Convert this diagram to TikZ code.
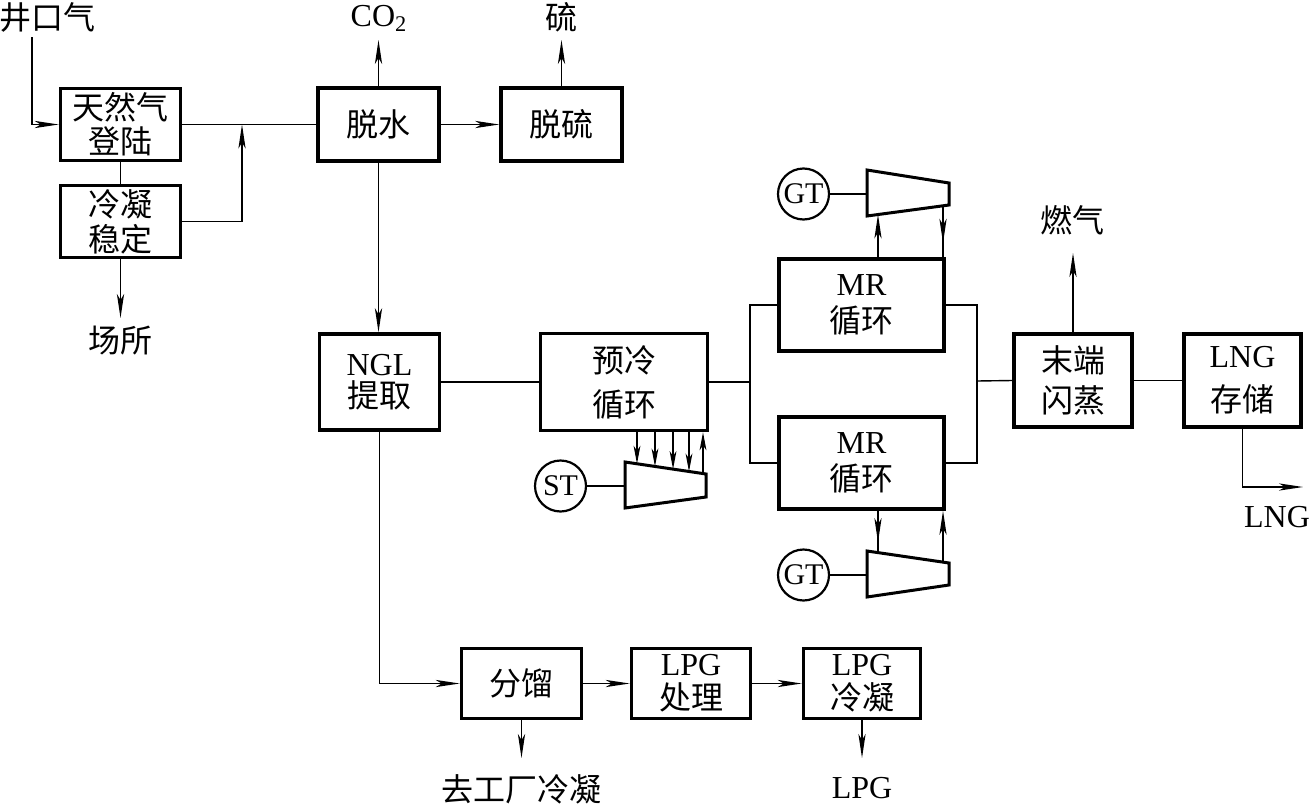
\documentclass[tikz,border=0pt]{standalone}
\usepackage{fontspec}
\setmainfont{Liberation Serif}
\newfontfamily\cjk{Noto Sans CJK SC}
\newfontfamily\lat{Liberation Serif}
\usetikzlibrary{arrows.meta,calc,decorations.markings}
\begin{document}
\begin{tikzpicture}[x=0.5pt,y=-0.5pt, line width=0.7pt,
  box/.style={draw, line width=1.8pt, inner sep=0pt, align=center, font=\cjk\fontsize{16}{17}\selectfont},
  ls/.style={font=\cjk\fontsize{16}{#1}\selectfont},
  lab/.style={inner sep=0pt, font=\cjk\fontsize{16}{17}\selectfont},
  arr/.style={-{Stealth[length=12pt,width=3.6pt,inset=3pt]}},
  sarr/.style={-{Stealth[length=9pt,width=3.4pt,inset=2.5pt]}},
  marr/.style={postaction={decorate}, decoration={markings, mark=at position #1 with {\arrow{Stealth[length=12pt,width=3.6pt,inset=3pt]}}}},
  comp/.style={draw, line width=1.5pt, line join=miter},
  turb/.style={draw, circle, line width=1.1pt, inner sep=0pt, minimum size=25.5pt, font=\lat\fontsize{15}{16}\selectfont}]
\useasboundingbox (0,0) rectangle (1311,803);

% boxes
\node[box, minimum width=60pt, minimum height=36pt] (land) at (120.5,124.5) {天然气\\登陆};
\node[box, ls=17.5, minimum width=60pt, minimum height=36pt] (cond) at (120.5,221.5) {冷凝\\稳定};
\node[box, minimum width=60.5pt, minimum height=36.5pt] (dehy) at (378.5,124.5) {脱水};
\node[box, minimum width=60.5pt, minimum height=36.5pt] (desulf) at (561.5,124.5) {脱硫};
\node[box, ls=16, minimum width=60pt, minimum height=48pt] (ngl) at (379.5,382) {{\lat NGL}\\提取};
\node[box, ls=22, minimum width=83.5pt, minimum height=48.5pt] (pre) at (624,382) {预冷\\循环};
\node[box, ls=18.5, minimum width=82.5pt, minimum height=46pt] (mr1) at (861.5,305) {{\lat MR}\\循环};
\node[box, ls=18.5, minimum width=82.5pt, minimum height=46pt] (mr2) at (861.5,463) {{\lat MR}\\循环};
\node[box, ls=20, minimum width=59pt, minimum height=46.5pt] (flash) at (1073,380.5) {末端\\闪蒸};
\node[box, ls=22, minimum width=58.7pt, minimum height=46.5pt] (lngs) at (1242.5,380.5) {{\lat LNG}\\存储};
\node[box, minimum width=60pt, minimum height=35pt] (frac) at (521.5,683.5) {分馏};
\node[box, minimum width=59.5pt, minimum height=35pt] (lpgt) at (691,683.5) {{\lat LPG}\\处理};
\node[box, minimum width=58.5pt, minimum height=35pt] (lpgc) at (862,683.5) {{\lat LPG}\\冷凝};

% labels
\node[lab, anchor=west] (well) at (-1,17) {井口气};
\node[lab, anchor=south, inner ysep=4pt] (co2) at (379,40) {\lat CO\textsubscript{2}};
\node[lab, anchor=south, inner ysep=3.5pt] (sulf) at (561.5,40) {硫};
\node[lab, anchor=north, inner ysep=3.5pt] (place) at (120.5,318) {场所};
\node[lab, anchor=south, inner ysep=8.5pt] (fuel) at (1072,253) {燃气};
\node[lab] (lngout) at (1277,517) {\lat LNG};
\node[lab, anchor=north, inner ysep=8pt] (togo) at (521.5,758) {去工厂冷凝};
\node[lab, anchor=north, inner ysep=9.5pt] (lpg) at (862,758) {\lat LPG};

% left part
\coordinate (in0) at (32,37);
\draw[arr] (in0) |- (land.west);
\draw (land.south) -- (cond.north);
\draw (land.east) -- (dehy.west);
\coordinate (j1) at (242,124.5);
\draw[arr] (cond.east) -| (j1);
\draw[arr] (cond.south) -- (place.north);
\draw[arr] (dehy.north) -- (dehy.north |- co2.south);
\draw[arr] (dehy.east) -- (desulf.west);
\draw[arr] (desulf.north) -- (sulf.south);
\draw[arr] (dehy.south) -- (dehy.south |- ngl.north);
\draw (ngl.east) -- (pre.west);
\draw[arr] (ngl.south) |- (frac.west);
\draw[arr] (frac.east) -- (lpgt.west);
\draw[arr] (lpgt.east) -- (lpgc.west);
\draw[arr] (frac.south) -- (togo.north);
\draw[arr] (lpgc.south) -- (lpg.north);

% MR branches
\coordinate (b1) at (750,382);
\draw (pre.east) -- (b1);
\draw (mr1.west) -| (b1) |- (mr2.west);
\coordinate (b2) at (977,381);
\draw (mr1.east) -| (b2) |- (mr2.east);
\draw (b2) -- (flash.west);
\draw (flash.east) -- (lngs.west);
\draw[arr] (flash.north) -- (flash.north |- fuel.south);
\coordinate (lngtip) at (1303,487);
\draw[arr] (lngs.south) |- (lngtip);

% ST compressor
\coordinate (sA) at (625,462);
\coordinate (sB) at (706,474);
\coordinate (sC) at (706,497);
\coordinate (sD) at (625,508);
\draw[comp] (sA) -- (sB) -- (sC) -- (sD) -- cycle;
\node[turb] (st) at (560.5,486) {ST};
\coordinate (sL) at (625,486);
\draw (st.east) -- (sL);
\foreach \t/\n in {0.148/1, 0.370/2, 0.593/3, 0.790/4} {
  \coordinate (p\n) at ($(sA)!\t!(sB)$);
  \draw[sarr] (pre.south -| p\n) -- (p\n);
}
\coordinate (p5) at ($(sA)!0.963!(sB)$);
\draw[sarr] (p5) -- (pre.south -| p5);

% top GT compressor
\coordinate (tA) at (867,170);
\coordinate (tB) at (949,183);
\coordinate (tC) at (949,205);
\coordinate (tD) at (867,216);
\draw[comp] (tA) -- (tB) -- (tC) -- (tD) -- cycle;
\node[turb] (g1) at (803.5,194) {GT};
\coordinate (tL) at (867,194);
\draw (g1.east) -- (tL);
\coordinate (q1) at ($(tD)!0.134!(tC)$);
\draw[arr] (mr1.north -| q1) -- (q1);
\coordinate (q2) at ($(tD)!0.927!(tC)$);
\draw[marr=0.72] (q2) -- (mr1.north -| q2);

% bottom GT compressor
\coordinate (uA) at (867,551);
\coordinate (uB) at (949,563);
\coordinate (uC) at (949,585);
\coordinate (uD) at (867,597);
\draw[comp] (uA) -- (uB) -- (uC) -- (uD) -- cycle;
\node[turb] (g2) at (803.5,575) {GT};
\coordinate (uL) at (867,575);
\draw (g2.east) -- (uL);
\coordinate (r1) at ($(uA)!0.134!(uB)$);
\draw[marr=0.75] (mr2.south -| r1) -- (r1);
\coordinate (r2) at ($(uA)!0.927!(uB)$);
\draw[arr] (r2) -- (mr2.south -| r2);
\end{tikzpicture}
\end{document}
